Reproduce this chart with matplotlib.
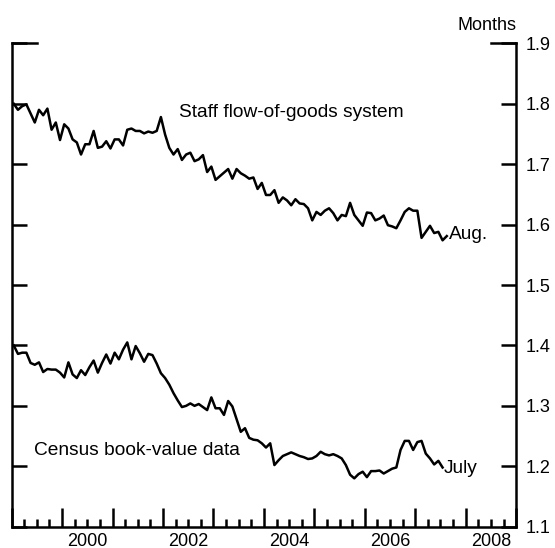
import numpy as np
import matplotlib.pyplot as plt
from matplotlib.ticker import MultipleLocator, NullFormatter

plt.rcParams['font.family'] = ['Liberation Sans', 'DejaVu Sans']

# monthly, Jan 1999 - Aug 2007 (months of supply)
staff = [1.800, 1.790, 1.796, 1.799, 1.784, 1.769, 1.790, 1.781, 1.792, 1.757,
         1.769, 1.740, 1.766, 1.759, 1.741, 1.736, 1.716, 1.733, 1.733, 1.755,
         1.727, 1.729, 1.738, 1.726, 1.741, 1.741, 1.731, 1.757, 1.759, 1.755,
         1.755, 1.751, 1.754, 1.752, 1.755, 1.778, 1.749, 1.727, 1.716, 1.725,
         1.707, 1.716, 1.719, 1.705, 1.708, 1.715, 1.687, 1.696, 1.674, 1.680,
         1.686, 1.692, 1.676, 1.692, 1.685, 1.681, 1.676, 1.678, 1.659, 1.669,
         1.649, 1.649, 1.657, 1.636, 1.645, 1.640, 1.632, 1.642, 1.635, 1.634,
         1.627, 1.607, 1.621, 1.616, 1.623, 1.627, 1.619, 1.607, 1.616, 1.614,
         1.636, 1.616, 1.607, 1.598, 1.620, 1.619, 1.607, 1.610, 1.615, 1.599,
         1.597, 1.594, 1.607, 1.621, 1.627, 1.623, 1.623, 1.578, 1.588, 1.598,
         1.586, 1.588, 1.574, 1.581]

# monthly, Jan 1999 - Jul 2007
census = [1.400, 1.386, 1.388, 1.388, 1.371, 1.368, 1.372, 1.356, 1.361, 1.360,
          1.360, 1.355, 1.347, 1.372, 1.352, 1.346, 1.359, 1.351, 1.364, 1.375,
          1.355, 1.371, 1.385, 1.370, 1.388, 1.377, 1.393, 1.405, 1.377, 1.399,
          1.387, 1.373, 1.386, 1.384, 1.370, 1.354, 1.346, 1.335, 1.321, 1.309,
          1.298, 1.300, 1.304, 1.300, 1.303, 1.298, 1.293, 1.314, 1.296, 1.296,
          1.285, 1.308, 1.299, 1.278, 1.257, 1.263, 1.247, 1.244, 1.243, 1.238,
          1.231, 1.238, 1.202, 1.210, 1.217, 1.220, 1.223, 1.220, 1.217, 1.215,
          1.212, 1.213, 1.217, 1.224, 1.220, 1.218, 1.220, 1.217, 1.213, 1.202,
          1.186, 1.180, 1.187, 1.191, 1.182, 1.192, 1.192, 1.193, 1.188, 1.192,
          1.196, 1.198, 1.227, 1.242, 1.242, 1.227, 1.240, 1.242, 1.221, 1.213,
          1.203, 1.209, 1.198]

start_year = 1999
end_year = 2009
year_labels = ['2000', '2002', '2004', '2006', '2008']
y_ticks = [1.1, 1.2, 1.3, 1.4, 1.5, 1.6, 1.7, 1.8, 1.9]

staff_x = start_year + (np.arange(len(staff)) + 0.5) / 12
census_x = start_year + (np.arange(len(census)) + 0.5) / 12

lw = 1.8
fs = 13
fs_note = 13.8

fig = plt.figure(figsize=(5.55, 5.48), dpi=100)
ax = fig.add_axes([0.021, 0.0389, 0.909, 0.882])

ax.plot(staff_x, staff, color='black', lw=lw)
ax.plot(census_x, census, color='black', lw=lw)

ax.set_xlim(start_year, end_year)
ax.set_ylim(y_ticks[0], y_ticks[-1])

ax.spines['top'].set_visible(False)
for s in ['left', 'right', 'bottom']:
    ax.spines[s].set_linewidth(lw)

# x axis: year ticks, quarter minor ticks, labels centred in the year
ax.xaxis.set_major_locator(MultipleLocator(1))
ax.xaxis.set_minor_locator(MultipleLocator(0.25))
ax.xaxis.set_major_formatter(NullFormatter())
ax.tick_params(axis='x', which='major', direction='in', length=13.7, width=lw)
ax.tick_params(axis='x', which='minor', direction='in', length=5.8, width=lw)
for lab in year_labels:
    ax.text(int(lab) + 0.5, -0.039, lab, transform=ax.get_xaxis_transform(),
            ha='center', va='baseline', fontsize=fs)

# y axis: ticks both sides, labels on the right
ax.set_yticks(y_ticks)
ax.set_yticklabels([f'{v:.1f}' for v in y_ticks])
ax.tick_params(axis='y', which='both', direction='in', length=10.5, width=lw,
               left=True, right=True, labelleft=False, labelright=True,
               labelsize=fs, pad=7)
ax.axhline(1.9, xmin=0, xmax=0.05, color='black', lw=lw, clip_on=False)
ax.axhline(1.9, xmin=0.95, xmax=1, color='black', lw=lw, clip_on=False)

ax.text(1.0, 1.0275, 'Months', transform=ax.transAxes, ha='right',
        va='baseline', fontsize=fs)

ax.text(2002.32, 1.7785, 'Staff flow-of-goods system', fontsize=fs_note, va='baseline')
ax.text(1999.45, 1.219, 'Census book-value data', fontsize=fs_note, va='baseline')
ax.text(2007.66, 1.5764, 'Aug.', fontsize=fs_note, va='baseline')
ax.text(2007.56, 1.1884, 'July', fontsize=fs_note, va='baseline')

fig.savefig('out.png', dpi=100)
